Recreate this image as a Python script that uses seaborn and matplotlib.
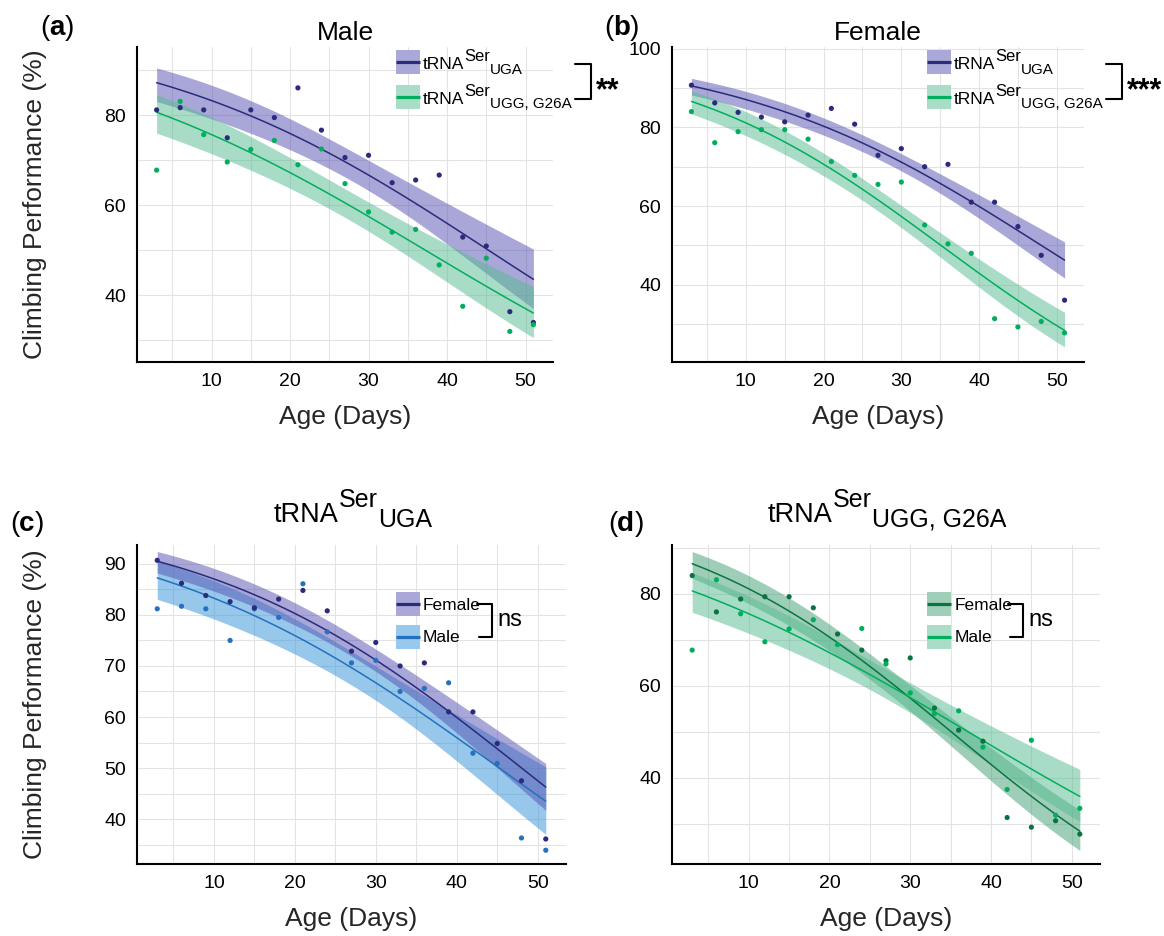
import matplotlib
matplotlib.use("Agg")
import numpy as np
import matplotlib.pyplot as plt
import seaborn as sns
from matplotlib.patches import Rectangle
from matplotlib.lines import Line2D

# ---------------- data ----------------
days = [3, 6, 9, 12, 15, 18, 21, 24, 27, 30, 33, 36, 39, 42, 45, 48, 51]
male_uga = [81.2, 81.7, 81.2, 75.0, 81.2, 79.5, 86.1, 76.7, 70.6, 71.1, 65.0, 65.6, 66.7, 52.9, 50.9, 36.3, 33.9]
male_g26a = [67.8, 83.1, 75.7, 69.6, 72.4, 74.4, 69.0, 72.5, 64.8, 58.5, 54.0, 54.6, 46.7, 37.5, 48.2, 31.9, 33.4]
female_uga = [90.7, 86.2, 83.8, 82.6, 81.4, 83.1, 84.8, 80.8, 72.9, 74.6, 70.0, 70.6, 61.0, 61.0, 54.8, 47.5, 36.1]
female_g26a = [84.0, 76.1, 78.9, 79.4, 79.4, 77.0, 71.3, 67.8, 65.5, 66.1, 55.2, 50.4, 48.0, 31.4, 29.3, 30.7, 27.8]

x_major = [10, 20, 30, 40, 50]
x_minor = [5, 15, 25, 35, 45]

# colours
NAVY, NAVY_BAND, NAVY_FILL = "#2C2A7C", "#A9A8D8", "#5351B1"
GREEN, GREEN_BAND, GREEN_FILL = "#00AE5E", "#AADDC7", "#55BB8F"
BLUE, BLUE_BAND, BLUE_FILL = "#2670BD", "#98C8EC", "#3191D9"
DKGREEN, DKGREEN_BAND, DKGREEN_FILL = "#0A7440", "#A0CFB9", "#419F73"

W, H = 1164, 936
sns.set_style("white")
plt.rcParams["font.family"] = ["Liberation Sans", "DejaVu Sans"]

fig = plt.figure(figsize=(W / 100, H / 100), dpi=100)
renderer = fig.canvas.get_renderer()


# ------------- logistic (quasi-binomial) fit with 95% band -------------
def logistic_band(xv, yv, num=100):
    x = np.asarray(xv, float)
    p = np.asarray(yv, float) / 100.0
    X = np.column_stack([np.ones_like(x), x])
    beta = np.linalg.lstsq(X, np.log(p / (1 - p)), rcond=None)[0]
    for _ in range(50):
        eta = X @ beta
        mu = 1 / (1 + np.exp(-eta))
        w = mu * (1 - mu)
        z = eta + (p - mu) / w
        XtW = X.T * w
        beta = np.linalg.solve(XtW @ X, XtW @ z)
    eta = X @ beta
    mu = 1 / (1 + np.exp(-eta))
    w = mu * (1 - mu)
    phi = np.sum((p - mu) ** 2 / w) / (len(x) - 2)
    cov = phi * np.linalg.inv((X.T * w) @ X)
    grid = np.linspace(x.min(), x.max(), num)
    G = np.column_stack([np.ones_like(grid), grid])
    eg = G @ beta
    se = np.sqrt(np.einsum("ij,jk,ik->i", G, cov, G))
    inv = lambda e: 100 / (1 + np.exp(-e))
    return grid, inv(eg), inv(eg - 1.959964 * se), inv(eg + 1.959964 * se)


def add_ax(l, t, r, b):
    return fig.add_axes([l / W, 1 - b / H, (r - l) / W, (b - t) / H])


def fit(ax, y, line, fill):
    g, f, lo, hi = logistic_band(days, y)
    ax.fill_between(g, lo, hi, color=fill, alpha=0.5, lw=0, zorder=2)
    sns.lineplot(x=g, y=f, ax=ax, color=line, lw=1.1, zorder=3)


def dots(ax, y, color):
    sns.scatterplot(x=days, y=y, ax=ax, color=color, s=14, edgecolor="none",
                    legend=False, zorder=4)


def style(ax, ylim, major_y, minor_y, ylabel):
    ax.set_xlim(0.5, 53.5)
    ax.set_ylim(*ylim)
    ax.set_xticks(x_major)
    ax.set_xticks(x_minor, minor=True)
    ax.set_yticks(major_y)
    ax.set_yticks(minor_y, minor=True)
    ax.grid(True, which="both", color="#e3e3e3", lw=0.8)
    ax.set_axisbelow(True)
    for s in ["top", "right"]:
        ax.spines[s].set_visible(False)
    for s in ["left", "bottom"]:
        ax.spines[s].set_linewidth(1.5)
        ax.spines[s].set_color("black")
    ax.tick_params(which="major", length=4, width=1.8, labelsize=14,
                   direction="out", color="black", labelcolor="black", pad=4)
    ax.tick_params(which="minor", length=0)
    ax.set_xlabel("Age (Days)", fontsize=19, labelpad=11)
    if ylabel:
        ax.set_ylabel("Climbing Performance (%)", fontsize=19, va="center")
        l, b, w, h = ax.get_position().bounds
        ax.yaxis.set_label_coords((35 / W - l) / w, 0.5)
    else:
        ax.set_ylabel("")


def rich(x, baseline, pieces, ha="left"):
    """pieces: (text, size, raise_px, weight)"""
    items = []
    cur = 0.0
    for s, size, dy, wt in pieces:
        t = fig.text(0, 0, s, fontsize=size, va="baseline", ha="left",
                     fontweight=wt, color="black")
        w = t.get_window_extent(renderer).width
        items.append((t, cur, dy))
        cur += w
    x0 = x - cur / 2 if ha == "center" else x
    for t, off, dy in items:
        t.set_position(((x0 + off) / W, 1 - (baseline - dy) / H))


def legend_row(xp, yc, band, line, pieces, baseline):
    fig.add_artist(Rectangle((xp / W, 1 - (yc + 12) / H), 24 / W, 24 / H,
                             transform=fig.transFigure, facecolor=band,
                             edgecolor="none"))
    fig.add_artist(Line2D([xp / W, (xp + 24) / W], [1 - yc / H] * 2,
                          transform=fig.transFigure, color=line, lw=2.3,
                          solid_capstyle="butt"))
    rich(xp + 27, baseline, pieces)


def bracket(x_left_top, x_left_bot, x_right, y_top, y_bot):
    xs = [x_left_top, x_right, x_right, x_left_bot]
    ys = [y_top, y_top, y_bot, y_bot]
    fig.add_artist(Line2D([v / W for v in xs], [1 - v / H for v in ys],
                          transform=fig.transFigure, color="black", lw=1.5))


def trna(sub, base, sup_s, sub_s):
    return [("tRNA", base, 0, "normal"), ("Ser", sup_s, 8, "normal"),
            (sub, sub_s, -4.5, "normal")]


# ---------------- panels ----------------
ax_a = add_ax(137, 47, 553, 362)
ax_b = add_ax(672, 47, 1084, 362)
ax_c = add_ax(137, 545, 566, 864)
ax_d = add_ax(672, 545, 1100, 864)

# (a) Male
fit(ax_a, male_uga, NAVY, NAVY_FILL)
fit(ax_a, male_g26a, GREEN, GREEN_FILL)
dots(ax_a, male_uga, NAVY)
dots(ax_a, male_g26a, GREEN)
style(ax_a, (25.1, 95.2), [40, 60, 80], [30, 50, 70, 90], True)

# (b) Female
fit(ax_b, female_uga, NAVY, NAVY_FILL)
fit(ax_b, female_g26a, GREEN, GREEN_FILL)
dots(ax_b, female_uga, NAVY)
dots(ax_b, female_g26a, GREEN)
style(ax_b, (20.4, 100.4), [40, 60, 80, 100], [30, 50, 70, 90], False)

# (c) tRNA-Ser UGA
fit(ax_c, male_uga, BLUE, BLUE_FILL)
fit(ax_c, female_uga, NAVY, NAVY_FILL)
dots(ax_c, male_uga, BLUE)
dots(ax_c, female_uga, NAVY)
style(ax_c, (31.2, 93.7), [40, 50, 60, 70, 80, 90], [35, 45, 55, 65, 75, 85], True)

# (d) tRNA-Ser UGG, G26A
fit(ax_d, female_g26a, DKGREEN, DKGREEN_FILL)
fit(ax_d, male_g26a, GREEN, GREEN_FILL)
dots(ax_d, female_g26a, DKGREEN)
dots(ax_d, male_g26a, GREEN)
style(ax_d, (21.3, 90.65), [40, 60, 80], [30, 50, 70, 90], False)

# ---------------- titles & panel tags ----------------
rich(345, 39.6, [("Male", 19, 0, "normal")], ha="center")
rich(878, 39.6, [("Female", 19, 0, "normal")], ha="center")
rich(353, 522, [("tRNA", 19.5, 0, "normal"), ("Ser", 18, 14.5, "normal"),
                ("UGA", 18, -5, "normal")], ha="center")
rich(887, 522, [("tRNA", 19.5, 0, "normal"), ("Ser", 18, 14.5, "normal"),
                ("UGG, G26A", 18, -5, "normal")], ha="center")

for xl, bl, tag in [(40, 35, "a"), (604, 35, "b"), (10, 531, "c"), (608, 531, "d")]:
    rich(xl, bl, [("(", 20, 0, "normal"), (tag, 20, 0, "bold"), (")", 20, 0, "normal")])

# ---------------- legends ----------------
for dx, stars in [(0, "**"), (531, "***")]:
    legend_row(396 + dx, 62, NAVY_BAND, NAVY, trna("UGA", 12.5, 12, 11), 69)
    legend_row(396 + dx, 97, GREEN_BAND, GREEN, trna("UGG, G26A", 12.5, 12, 11), 104)
    bracket(575 + dx, 575 + dx, 591 + dx, 64, 99.3)
    rich(596 + dx, 99, [(stars, 22, 0, "bold")])

for dx, (fb, fl, mb, ml) in [(0, (NAVY_BAND, NAVY, BLUE_BAND, BLUE)),
                             (531.3, (DKGREEN_BAND, DKGREEN, GREEN_BAND, GREEN))]:
    legend_row(396 + dx, 604, fb, fl, [("Female", 12.5, 0, "normal")], 609.5)
    legend_row(396 + dx, 637, mb, ml, [("Male", 12.5, 0, "normal")], 642.5)
    bracket(477 + dx, 479 + dx, 492 + dx, 603.5, 637.3)
    rich(497 + dx, 626, [("ns", 17, 0, "normal")])

fig.savefig("out.png", dpi=100)
